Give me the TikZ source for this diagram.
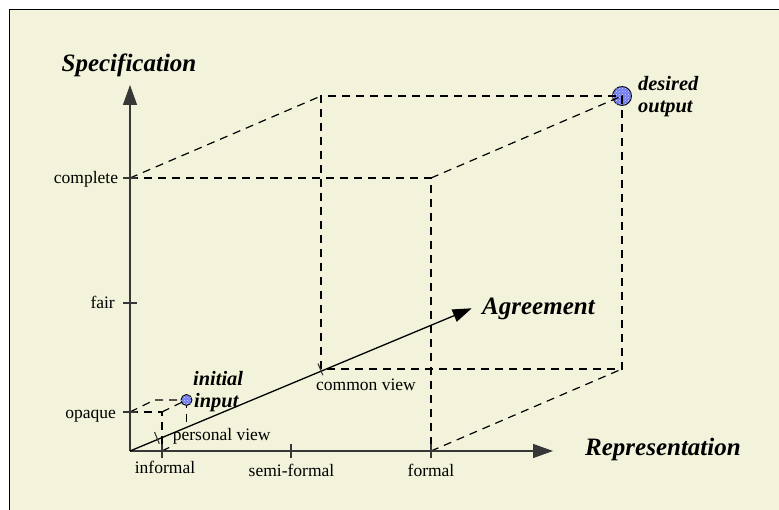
\documentclass[tikz,border=0pt]{standalone}
\usepackage{fontspec}
\setmainfont{Liberation Serif}
\usetikzlibrary{arrows.meta,patterns}
\definecolor{paper}{RGB}{243,242,218}
\definecolor{axisgray}{RGB}{55,55,55}
\definecolor{ballblue}{RGB}{112,122,240}

\begin{document}
\begin{tikzpicture}[x=1pt,y=-1pt,
  axis/.style={draw=axisgray, line width=1.4pt, -{Triangle[length=20pt,width=14pt]}},
  depth/.style={draw=black, line width=1.3pt, -{Triangle[length=19pt,width=13pt]}},
  tickmark/.style={draw=axisgray, line width=1.1pt},
  guide/.style={draw=black, line width=1.2pt, dash pattern=on 8pt off 6pt},
  scale label/.style={font=\fontsize{17.5}{20}\selectfont, inner sep=0pt},
  axis label/.style={font=\fontsize{25}{30}\selectfont\bfseries\itshape, inner sep=0pt},
  point label/.style={font=\fontsize{20.4}{22}\selectfont\bfseries\itshape, inner sep=0pt},
  ball/.style={circle, draw=black, line width=0.9pt, fill=ballblue,
    postaction={pattern=crosshatch dots, pattern color=white!75!ballblue}, inner sep=0pt}
]
% page and frame
\useasboundingbox (0,0) rectangle (779,510);
\fill[white] (0,0) rectangle (779,510);
\fill[paper] (9.5,9.5) rectangle (779,510);
\draw[line width=1.5pt, black] (9.5,510) -- (9.5,9.5) -- (779,9.5);

% axes origin and tips
\coordinate (O) at (130,451);
\coordinate (specTip) at (130,85);
\coordinate (reprTip) at (553,451);
\coordinate (agrTip) at (471.7,308.3);

% scale positions on the axes
\coordinate (complete) at (130,178);
\coordinate (fair) at (130,303);
\coordinate (opaque) at (130,412);
\coordinate (informal) at (162,451);
\coordinate (semiformal) at (291,451);
\coordinate (formal) at (431,451);
\coordinate (personal) at (157.5,439.5);
\coordinate (common) at (321,371);

% large box: complete / formal / common view
\coordinate (F1) at (130,178);
\coordinate (F2) at (431,178);
\coordinate (F3) at (431,451);
\coordinate (B0) at (321,369);
\coordinate (B1) at (321,96);
\coordinate (B2) at (622,96);
\coordinate (B3) at (622,369);

% small box: opaque / informal / personal view
\coordinate (f1) at (130,412);
\coordinate (f2) at (162,412);
\coordinate (f3) at (162,451);
\coordinate (b1) at (154.5,400);
\coordinate (b2) at (186.5,400);
\coordinate (b3) at (186.5,439);

% desired output point
\node[ball, minimum size=19pt] (target) at (B2) {};

% dashed edges of the large box
\draw[guide] (F1) -- (F2) -- (F3);
\draw[guide] (F1) -- (B1);
\draw[guide] (F2) -- (B2);
\draw[guide] (F3) -- (B3);
\draw[guide] (B0) -- (B1) -- (B2) -- (B3) -- (B0);

% dashed edges of the small box
\draw[guide] (f1) -- (f2) -- (f3);
\draw[guide] (f1) -- (b1) -- (b2);
\draw[guide] (f2) -- (b2);
\draw[guide] (b2) -- (b3);
\draw[guide] (f3) -- (b3);

% initial input point
\node[ball, minimum size=11pt] (start) at (b2) {};

% depth labels
\node[scale label, anchor=base west, fill=paper, inner sep=1.5pt] (lpersonal) at (171.2,440.3) {personal view};
\node[scale label, anchor=base west] (lcommon) at (316,391) {common view};

% axes
\draw[axis] (O) -- (specTip);
\draw[axis] (O) -- (reprTip);
\draw[depth] (O) -- (agrTip);

% tick marks
\foreach \t in {complete,fair,opaque}
  \draw[tickmark] ([xshift=-7pt]\t) -- ([xshift=7pt]\t);
\foreach \t in {informal,semiformal,formal}
  \draw[tickmark] ([yshift=-7pt]\t) -- ([yshift=7pt]\t);
\foreach \t in {personal,common}
  \draw[tickmark] ([shift={(-3,-7.5)}]\t) -- ([shift={(1.8,4.2)}]\t);

% scale labels
\node[scale label, anchor=base east] (lcomplete) at (118.3,184) {complete};
\node[scale label, anchor=base east] (lfair) at (115,309) {fair};
\node[scale label, anchor=base east] (lopaque) at (116,418) {opaque};
\node[scale label, anchor=base] (linformal) at (165,473.5) {informal};
\node[scale label, anchor=base] (lsemi) at (291.5,476.5) {semi-formal};
\node[scale label, anchor=base] (lformal) at (431,476) {formal};

% axis titles
\node[axis label, anchor=base] (lspec) at (129,72) {Specification};
\node[axis label, anchor=base west] (lrepr) at (585,455) {Representation};
\node[axis label, anchor=base west] (lagr) at (482,315) {Agreement};

% point labels
\node[point label, anchor=base west] (linitial) at (193,385) {initial};
\node[point label, anchor=base west] (linput) at (194,407) {input};
\node[point label, anchor=base west] (ldesired) at (638,91) {desired};
\node[point label, anchor=base west] (loutput) at (638,113) {output};
\end{tikzpicture}
\end{document}
